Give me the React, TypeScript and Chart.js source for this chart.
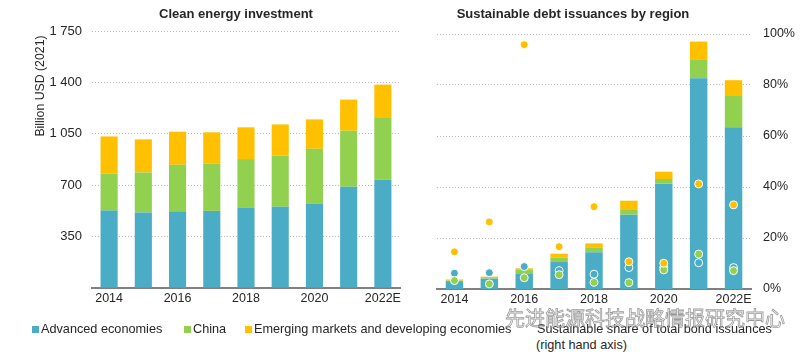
import React, { useEffect, useRef } from "react";
import { Chart, registerables } from "chart.js";

Chart.register(...registerables);

// ---------- data ----------
const years = ["2014", "2015", "2016", "2017", "2018", "2019", "2020", "2021", "2022E"];

// Clean energy investment, billion USD (2021)
const investAdvanced = [527, 514, 523, 525, 548, 553, 575, 689, 737];
const investChina = [251, 273, 316, 323, 330, 348, 373, 382, 425];
const investEmde = [254, 225, 225, 212, 216, 213, 200, 212, 223];

// Sustainable debt issuances by region (bars)
const debtAdvanced = [54, 71, 103, 185, 252, 510, 723, 1446, 1110];
const debtChina = [3, 4, 32, 30, 34, 32, 32, 126, 220];
const debtEmde = [8, 10, 7, 27, 27, 64, 50, 126, 103];

// Sustainable share of total bond issuances, % (right hand axis)
const shareAdvanced = [6.2, 6.4, 8.8, 7.2, 5.8, 8.4, 8.5, 10.3, 8.4];
const shareChina = [3.3, 2.0, 4.4, 5.6, 2.6, 2.5, 7.5, 13.7, 7.2];
const shareEmde = [14.6, 26.3, 95.8, 16.6, 32.3, 10.7, 10.1, 41.2, 33.0];

const leftTicks = [0, 350, 700, 1050, 1400, 1750];
const rightTicks = [0, 20, 40, 60, 80, 100];

const seriesNames = [
  "Advanced economies",
  "China",
  "Emerging markets and developing economies",
];

// ---------- styles ----------
const BLUE = "#4BACC6";
const GREEN = "#92D050";
const YELLOW = "#FFC000";
const FONT = '"Liberation Sans", Arial, Helvetica, sans-serif';
const TEXT = "#262626";

const fmtThousands = (v: number) =>
  v >= 1000 ? `${Math.floor(v / 1000)} ${String(v % 1000).padStart(3, "0")}` : String(v);

const xTickCb = (_v: any, i: number) => (i % 2 === 0 ? years[i] : "");

export default function App() {
  const leftRef = useRef<HTMLCanvasElement | null>(null);
  const rightRef = useRef<HTMLCanvasElement | null>(null);

  useEffect(() => {
    document.body.style.margin = "0";
    const left = new Chart(leftRef.current!, {
      type: "bar",
      data: {
        labels: years,
        datasets: [
          { label: seriesNames[0], data: investAdvanced, backgroundColor: BLUE },
          { label: seriesNames[1], data: investChina, backgroundColor: GREEN },
          { label: seriesNames[2], data: investEmde, backgroundColor: YELLOW },
        ],
      },
      options: {
        animation: false,
        responsive: false,
        maintainAspectRatio: false,
        devicePixelRatio: 1,
        layout: { padding: { top: 31, right: 10, left: 0, bottom: 0 } },
        plugins: { legend: { display: false }, tooltip: { enabled: false }, title: { display: false } },
        datasets: { bar: { categoryPercentage: 1, barPercentage: 0.5 } } as any,
        scales: {
          x: {
            stacked: true,
            grid: { display: false, drawTicks: false },
            border: { display: true, color: "#808080", width: 2 },
            ticks: {
              autoSkip: false,
              maxRotation: 0,
              padding: 3,
              color: TEXT,
              font: { family: FONT, size: 12.5 },
              callback: xTickCb,
            },
            afterFit: (s: any) => {
              s.height = 22;
            },
          },
          y: {
            stacked: true,
            min: leftTicks[0],
            max: leftTicks[leftTicks.length - 1],
            afterBuildTicks: (s: any) => {
              s.ticks = leftTicks.map((v) => ({ value: v }));
            },
            ticks: {
              padding: 10,
              color: TEXT,
              font: { family: FONT, size: 13 },
              callback: (v: any) => (Number(v) === 0 ? "" : fmtThousands(Number(v))),
            },
            grid: {
              drawTicks: false,
              color: (c: any) => (c.tick && c.tick.value === 0 ? "rgba(0,0,0,0)" : "#b8b8b8"),
            },
            border: { display: false, dash: [1, 2] },
            afterFit: (s: any) => {
              s.width = 92;
            },
          },
        },
      },
    });

    const pointDs = (label: string, data: number[], color: string, order: number) => ({
      type: "line" as const,
      label,
      data,
      yAxisID: "y1",
      showLine: false,
      order,
      pointRadius: 4,
      pointBackgroundColor: color,
      pointBorderColor: "#ffffff",
      pointBorderWidth: 1,
      borderColor: color,
      backgroundColor: color,
    });

    const right = new Chart(rightRef.current!, {
      type: "bar",
      data: {
        labels: years,
        datasets: [
          pointDs(seriesNames[2] + " share", shareEmde, YELLOW, 1),
          pointDs(seriesNames[1] + " share", shareChina, GREEN, 2),
          pointDs(seriesNames[0] + " share", shareAdvanced, BLUE, 3),
          { label: seriesNames[0], data: debtAdvanced, backgroundColor: BLUE, yAxisID: "y", order: 10 },
          { label: seriesNames[1], data: debtChina, backgroundColor: GREEN, yAxisID: "y", order: 11 },
          { label: seriesNames[2], data: debtEmde, backgroundColor: YELLOW, yAxisID: "y", order: 12 },
        ] as any,
      },
      options: {
        animation: false,
        responsive: false,
        maintainAspectRatio: false,
        devicePixelRatio: 1,
        layout: { padding: { top: 34, right: 0, left: 27, bottom: 0 } },
        plugins: { legend: { display: false }, tooltip: { enabled: false }, title: { display: false } },
        datasets: { bar: { categoryPercentage: 1, barPercentage: 0.5 } } as any,
        scales: {
          x: {
            stacked: true,
            grid: { display: false, drawTicks: false },
            border: { display: true, color: "#808080", width: 2 },
            ticks: {
              autoSkip: false,
              maxRotation: 0,
              padding: 3,
              color: TEXT,
              font: { family: FONT, size: 12.5 },
              callback: xTickCb,
            },
            afterFit: (s: any) => {
              s.height = 21;
            },
          },
          y: {
            display: false,
            stacked: true,
            min: 0,
            max: 1750,
          },
          y1: {
            position: "right",
            min: rightTicks[0],
            max: rightTicks[rightTicks.length - 1],
            afterBuildTicks: (s: any) => {
              s.ticks = rightTicks.map((v) => ({ value: v }));
            },
            ticks: {
              padding: 12,
              color: TEXT,
              font: { family: FONT, size: 12.5 },
              callback: (v: any) => `${v}%`,
            },
            grid: {
              drawTicks: false,
              color: (c: any) => (c.tick && c.tick.value === 0 ? "rgba(0,0,0,0)" : "#b8b8b8"),
            },
            border: { display: false, dash: [1, 2] },
            afterFit: (s: any) => {
              s.width = 49;
            },
          },
        },
      },
    });

    return () => {
      left.destroy();
      right.destroy();
    };
  }, []);

  const txt: React.CSSProperties = {
    position: "absolute",
    fontFamily: FONT,
    color: TEXT,
    whiteSpace: "nowrap",
    lineHeight: "16px",
  };
  const marker = (x: number, color: string): React.CSSProperties => ({
    position: "absolute",
    left: x,
    top: 326,
    width: 7,
    height: 7,
    background: color,
  });

  return (
    <div style={{ position: "relative", width: 800, height: 355, overflow: "hidden", background: "#fff" }}>
      <canvas
        ref={leftRef}
        width={410}
        height={310}
        style={{ position: "absolute", left: 0, top: 0, width: 410, height: 310 }}
      />
      <canvas
        ref={rightRef}
        width={390}
        height={310}
        style={{ position: "absolute", left: 410, top: 0, width: 390, height: 310 }}
      />
      <div style={{ ...txt, left: 136, top: 6, width: 200, textAlign: "center", fontWeight: "bold", fontSize: 13 }}>
        Clean energy investment
      </div>
      <div style={{ ...txt, left: 423, top: 6, width: 300, textAlign: "center", fontWeight: "bold", fontSize: 13 }}>
        Sustainable debt issuances by region
      </div>
      <div
        style={{
          ...txt,
          left: -20,
          top: 78,
          width: 120,
          textAlign: "center",
          fontSize: 12.3,
          transform: "rotate(-90deg)",
        }}
      >
        Billion USD (2021)
      </div>

      {/* legend */}
      <div style={marker(32, BLUE)} />
      <div style={{ ...txt, left: 41, top: 321, fontSize: 12.7 }}>{seriesNames[0]}</div>
      <div style={marker(184, GREEN)} />
      <div style={{ ...txt, left: 193, top: 321, fontSize: 12.7 }}>{seriesNames[1]}</div>
      <div style={marker(245, YELLOW)} />
      <div style={{ ...txt, left: 254, top: 321, fontSize: 12.7 }}>{seriesNames[2]}</div>
      <div style={{ ...txt, left: 537, top: 321, fontSize: 12.7 }}>Sustainable share of total bond issuances</div>
      <div style={{ ...txt, left: 536, top: 337, fontSize: 12.7 }}>(right hand axis)</div>

      {/* watermark */}
      <div
        style={{
          position: "absolute",
          left: 505,
          top: 306,
          fontFamily: '"Noto Sans CJK SC", sans-serif',
          fontSize: 20,
          lineHeight: "24px",
          color: "rgba(255,255,255,0.55)",
          WebkitTextStroke: "0.8px rgba(120,120,120,0.75)",
          whiteSpace: "nowrap",
          letterSpacing: 0,
        }}
      >
        先进能源科技战略情报研究中心
      </div>
    </div>
  );
}
